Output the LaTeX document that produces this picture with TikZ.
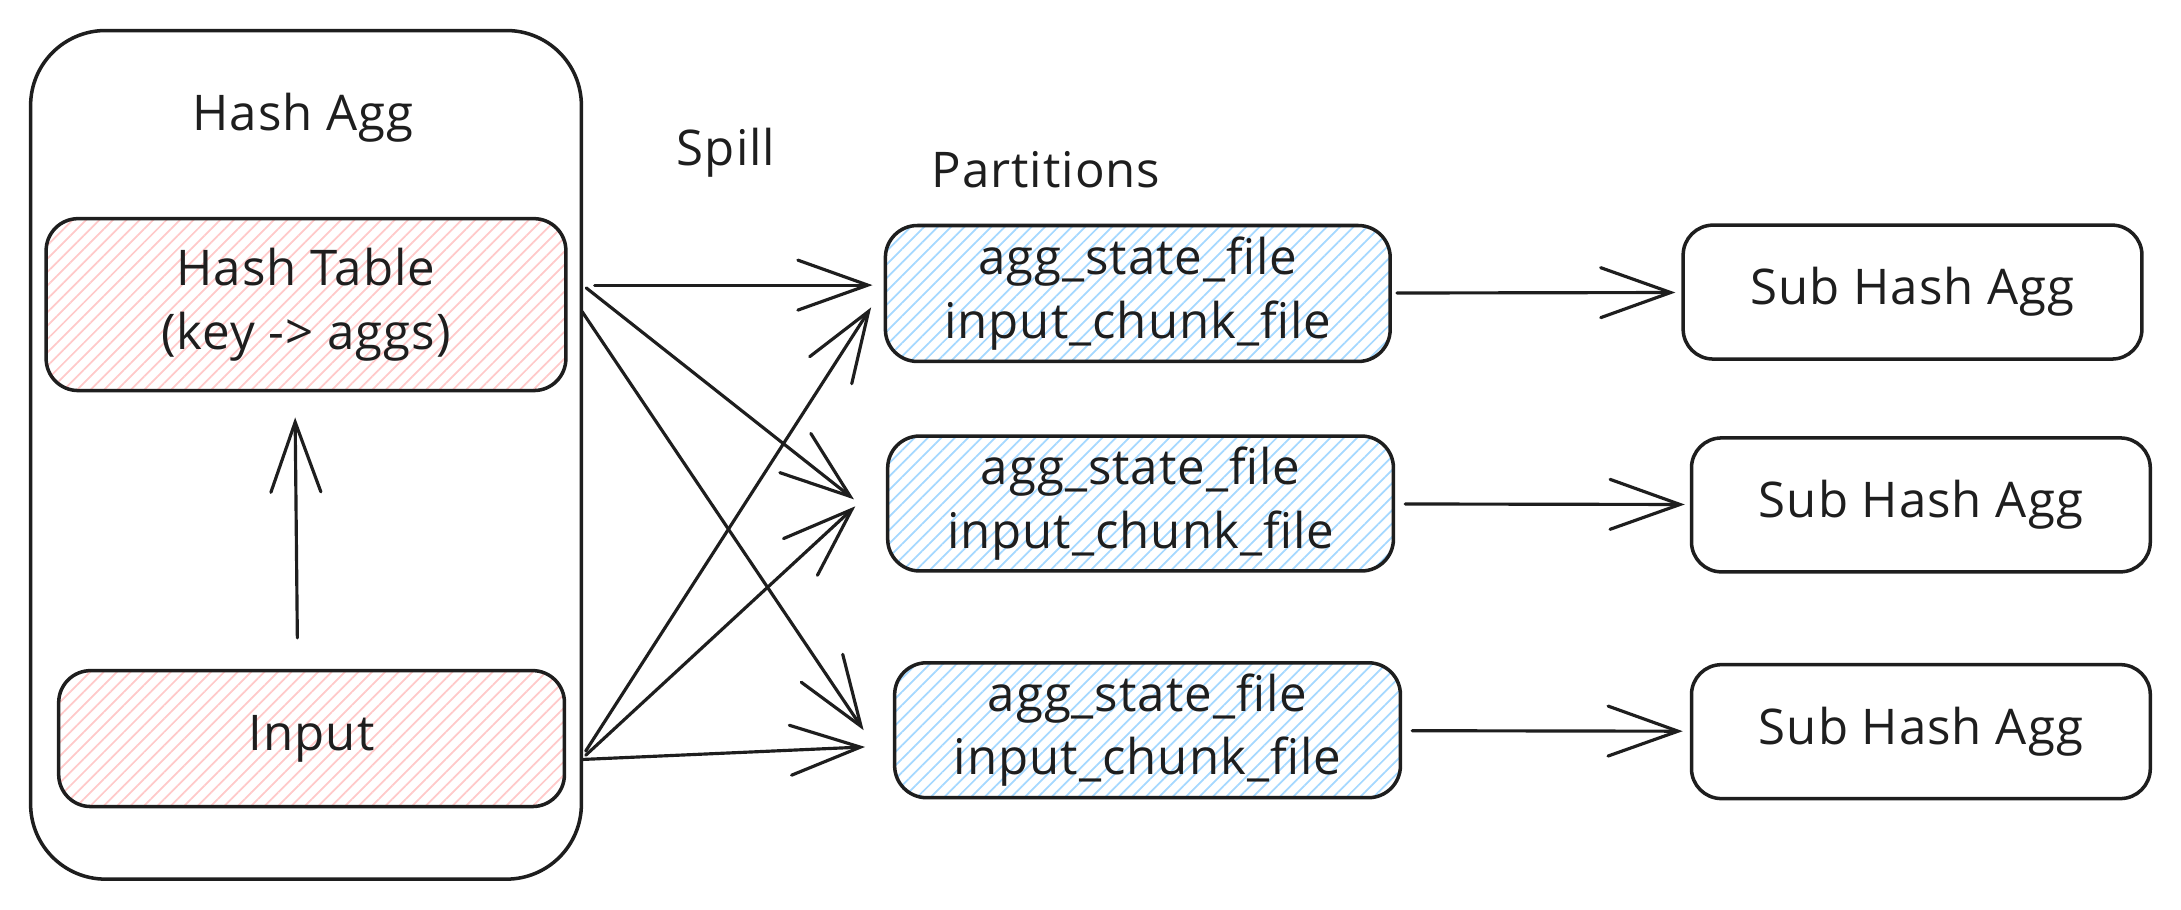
\documentclass[tikz,border=0pt]{standalone}
\usepackage{fontspec}
\setmainfont{Open Sans}[LetterSpace=2]
\usetikzlibrary{arrows.meta,calc,patterns.meta}

\definecolor{inkblack}{HTML}{1E1E1E}
\definecolor{hatchred}{HTML}{FFC9C9}
\definecolor{hatchblue}{HTML}{A5D8FF}

\begin{document}
\begin{tikzpicture}[x=0.01391cm, y=-0.01391cm,
                    every node/.style={font=\fontsize{14}{18}\selectfont, text=inkblack},
                    box/.style={draw=inkblack, line width=1pt, rounded corners=3.2mm, align=center, inner sep=0pt},
                    redbox/.style={box, pattern={Lines[angle=45,distance=2.7pt,line width=0.5pt]}, pattern color=hatchred},
                    bluebox/.style={box, pattern={Lines[angle=45,distance=2.7pt,line width=0.5pt]}, pattern color=hatchblue},
                    arr/.style={draw=inkblack, line width=0.9pt, line cap=round, -{Straight Barb[length=7mm,width=5mm,line cap=round]}}
]
\useasboundingbox (0,0) rectangle (1568,654);

% operator on the left
\node [box, rounded corners=7.5mm, minimum width=5.51cm, minimum height=8.49cm] at (220,327) (hashagg) {};
\node at (218,85) (aggtitle) {Hash Agg};
\node [redbox, minimum width=5.20cm, minimum height=1.72cm] at (220,219) (table) {Hash Table\\(key -> aggs)};
\node [redbox, minimum width=5.06cm, minimum height=1.36cm] at (224,531) (input) {Input};
%
\node at (522,110) (spill) {Spill};
\node at (752,122) (parts) {Partitions};
%
\node [bluebox, minimum width=5.05cm, minimum height=1.36cm] at (818,211) (part1) {agg\_state\_file\\input\_chunk\_file};
\node [bluebox, minimum width=5.06cm, minimum height=1.35cm] at (820,362) (part2) {agg\_state\_file\\input\_chunk\_file};
\node [bluebox, minimum width=5.06cm, minimum height=1.35cm] at (825,525) (part3) {agg\_state\_file\\input\_chunk\_file};
%
\node [box, rounded corners=3mm, minimum width=4.59cm, minimum height=1.34cm] at (1375,210) (sub1) {Sub Hash Agg};
\node [box, rounded corners=3mm, minimum width=4.59cm, minimum height=1.34cm] at (1381,363) (sub2) {Sub Hash Agg};
\node [box, rounded corners=3mm, minimum width=4.59cm, minimum height=1.34cm] at (1381,526) (sub3) {Sub Hash Agg};

% input feeds the table
\draw [arr, shorten <=3.1mm, shorten >=2.6mm] ($(input.north)+(-10,0)$) -- ($(table.south)+(-8,0)$);
%
% spill from the table
\draw [arr] ($(table.east)+(20,-14)$) -- ($(part1.west)+(-8,-6)$);
\draw [arr] ($(table.east)+(14,-12)$) -- ($(part2.west)+(-23,-3)$);
\draw [arr] ($(table.east)+(11,5)$) -- ($(part3.west)+(-21,0)$);
% spill from the input
\draw [arr] ($(input.east)+(14,9)$) -- ($(part1.west)+(-9,10)$);
\draw [arr] ($(input.east)+(14,12)$) -- ($(part2.west)+(-22,2)$);
\draw [arr] ($(input.east)+(12,15)$) -- ($(part3.west)+(-20,12)$);
%
\draw [arr, shorten <=0.5mm, shorten >=0.6mm] (part1) -- (sub1);
\draw [arr, shorten <=1mm, shorten >=0.5mm] (part2) -- (sub2);
\draw [arr, shorten <=1mm, shorten >=0.7mm] (part3) -- (sub3);
\end{tikzpicture}
\end{document}
